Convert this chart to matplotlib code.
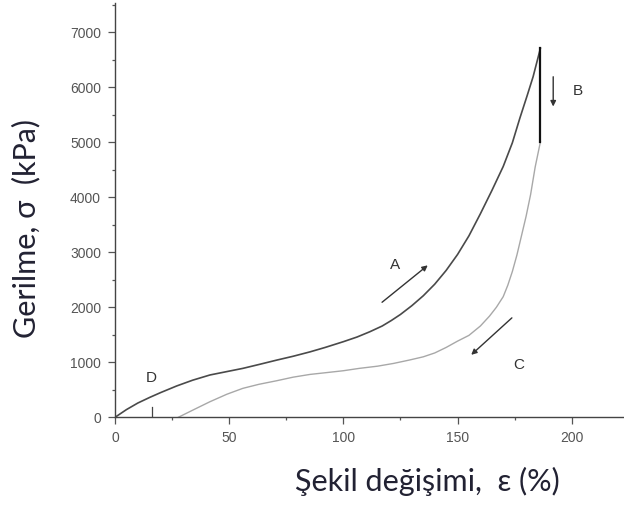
import numpy as np
import matplotlib.pyplot as plt
from matplotlib.ticker import MultipleLocator

# 加载曲线 (A)
load_x = [0, 5, 10, 15.3, 20, 27, 34, 41.6, 50, 56, 63, 70.8, 78, 85.4, 92, 100, 106,
          111.6, 117, 121, 125, 130, 135, 140, 145, 150, 155, 160, 165, 170, 174, 177.3,
          180.5, 183.1, 186.3]
load_y = [0, 140, 260, 364, 450, 570, 675, 770, 840, 890, 960, 1040, 1110, 1190, 1270,
          1375, 1460, 1556, 1660, 1760, 1870, 2030, 2210, 2420, 2670, 2960, 3300, 3700,
          4120, 4560, 4990, 5440, 5850, 6193, 6709]
# 卸载曲线 (C)
unload_x = [186.3, 184, 182, 180, 178, 176, 174, 172, 170, 167, 164, 160, 155, 150, 145,
            140, 135, 129, 122, 115, 107, 100, 92, 85.4, 78, 70.8, 63, 56, 49, 41.6, 35, 27.7]
unload_y = [5010, 4550, 4050, 3650, 3300, 2950, 2650, 2400, 2193, 2000, 1840, 1660, 1490,
            1385, 1270, 1170, 1100, 1042, 980, 930, 890, 847, 810, 780, 730, 665, 600, 527,
            420, 284, 150, 0]
# B 段: 峰值处的垂直下降
drop_x = [186.3, 186.3]
drop_y = [6709, 5010]
# D 标记
d_mark_x = 16
d_mark_y = 195

fig = plt.figure(figsize=(6.24, 5.08), dpi=100)
ax = fig.add_axes([0.1843, 0.1785, 0.8157, 0.815])

ax.plot(load_x, load_y, color='#4a4a4a', lw=1.2)
ax.plot(unload_x, unload_y, color='#a8a8a8', lw=1.0)
ax.plot(drop_x, drop_y, color='#111111', lw=1.6)
ax.plot([d_mark_x, d_mark_x], [0, d_mark_y], color='#444444', lw=0.9)

# 箭头和标签
arr = dict(arrowstyle='-|>', color='#333333', lw=1.0, mutation_scale=8)
ax.annotate('', xy=(137.9, 2795), xytext=(116, 2060), arrowprops=arr)
ax.annotate('', xy=(155.1, 1102), xytext=(174.7, 1842), arrowprops=arr)
ax.annotate('', xy=(191.9, 5600), xytext=(191.9, 6242), arrowprops=arr)
lab = dict(fontsize=11, color='#333333', family='Liberation Sans', ha='center', va='center')
ax.text(122.6, 2770, 'A', **lab)
ax.text(202.8, 5938, 'B', **lab)
ax.text(176.6, 951, 'C', **lab)
ax.text(16, 709, 'D', **lab)

ax.set_xlim(0, 222.9)
ax.set_ylim(0, 7527)
ax.xaxis.set_major_locator(MultipleLocator(50))
ax.xaxis.set_minor_locator(MultipleLocator(25))
ax.yaxis.set_major_locator(MultipleLocator(1000))
ax.yaxis.set_minor_locator(MultipleLocator(500))
ax.spines['top'].set_visible(False)
ax.spines['right'].set_visible(False)
for s in ['left', 'bottom']:
    ax.spines[s].set_color('#444444')
    ax.spines[s].set_linewidth(1.0)
ax.tick_params(which='major', direction='out', length=5, width=0.9, color='#555555',
               labelsize=10, labelcolor='#555555', pad=5)
ax.tick_params(which='minor', direction='out', length=2.5, width=0.9, color='#555555')
for t in ax.get_xticklabels() + ax.get_yticklabels():
    t.set_family('Liberation Sans')

# 轴标题
fig.text(0.685, 0.0335, 'Şekil değişimi,  ε (%)', fontsize=22, family='Lato',
         color='#222233', ha='center', va='baseline')
fig.text(0.0417, 0.551, 'Gerilme, σ  (kPa)', fontsize=22, family='Lato',
         color='#222233', ha='center', va='center', rotation=90)

plt.savefig('out.png', dpi=100)
